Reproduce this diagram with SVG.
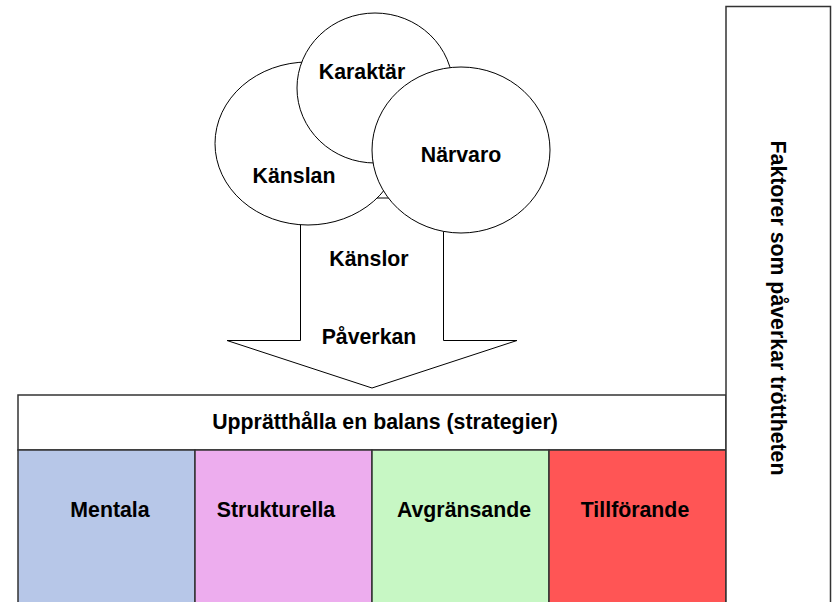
<svg xmlns="http://www.w3.org/2000/svg" width="838" height="602" viewBox="0 0 838 602">
  <style>
    .lbl { font-family: "Liberation Sans", Arial, sans-serif; font-weight: bold; font-size: 21.3px; fill: #000; text-anchor: middle; }
    .ell { fill: #fff; stroke: #000; stroke-width: 1; }
    .box { stroke: #333; stroke-width: 1.5; }
  </style>

  <!-- downward block arrow, behind the circles -->
  <g id="connectors">
    <path id="arrow-paverkan" d="M300.5,198 L443.5,198 L443.5,340.5 L517,340.5 L372,388 L227,340.5 L300.5,340.5 Z" fill="#fff" stroke="#000" stroke-width="1"/>
    <text class="lbl" x="369" y="266">Känslor</text>
    <text class="lbl" x="369" y="344">Påverkan</text>
  </g>

  <g id="node-kanslan">
    <ellipse class="ell" cx="308" cy="143.5" rx="93" ry="81.5"/>
    <text class="lbl" x="294" y="183">Känslan</text>
  </g>

  <g id="node-karaktar">
    <ellipse class="ell" cx="375" cy="88" rx="78" ry="75"/>
    <text class="lbl" x="362" y="79">Karaktär</text>
  </g>

  <g id="node-narvaro">
    <ellipse class="ell" cx="461" cy="150" rx="89" ry="83"/>
    <text class="lbl" x="461" y="162">Närvaro</text>
  </g>

  <g id="node-balans">
    <rect class="box" x="18" y="395" width="708" height="55" fill="#fff"/>
    <text class="lbl" x="385" y="429">Upprätthålla en balans (strategier)</text>
  </g>

  <g id="node-mentala">
    <rect class="box" x="18" y="450" width="177" height="160" fill="#B7C7E8"/>
    <text class="lbl" x="110" y="517">Mentala</text>
  </g>

  <g id="node-strukturella">
    <rect class="box" x="195" y="450" width="177" height="160" fill="#EDADEE"/>
    <text class="lbl" x="276" y="517">Strukturella</text>
  </g>

  <g id="node-avgransande">
    <rect class="box" x="372" y="450" width="177" height="160" fill="#C7F7C4"/>
    <text class="lbl" x="464" y="517">Avgränsande</text>
  </g>

  <g id="node-tillforande">
    <rect class="box" x="549" y="450" width="177" height="160" fill="#FF5555"/>
    <text class="lbl" x="635" y="517">Tillförande</text>
  </g>

  <g id="node-faktorer">
    <rect x="726" y="6.5" width="104.5" height="610" fill="#fff" stroke="#333" stroke-width="1.5"/>
    <text class="lbl" transform="translate(771,308) rotate(90)">Faktorer som påverkar tröttheten</text>
  </g>
</svg>
